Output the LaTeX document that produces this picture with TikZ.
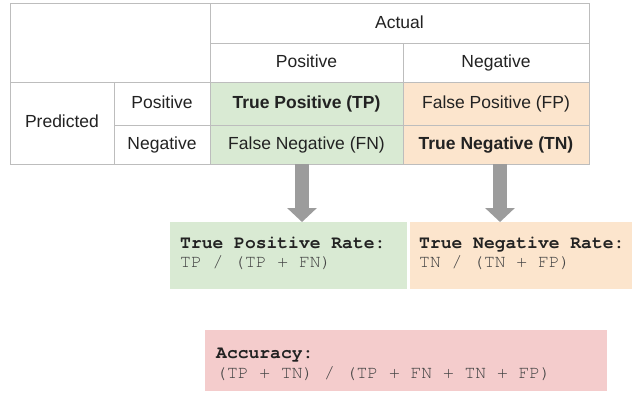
\documentclass[tikz,border=0pt]{standalone}
\usepackage{fontspec}
\setmainfont{Liberation Sans}
\newfontfamily\monof{TeX Gyre Cursor}
\usetikzlibrary{arrows.meta}
\definecolor{grn}{HTML}{D9EAD3}
\definecolor{org}{HTML}{FCE5CD}
\definecolor{pnk}{HTML}{F4CCCC}
\definecolor{lgray}{HTML}{BDBDBD}
\definecolor{agray}{HTML}{9C9C9C}
\definecolor{txt}{HTML}{222222}
\definecolor{ftxt}{HTML}{444444}
\begin{document}
\begin{tikzpicture}[x=1pt,y=-1pt,
  cell/.style={draw=lgray, line width=1pt, inner sep=0pt, outer sep=0pt, text=txt,
    font=\fontsize{17.5}{20}\selectfont, text height=12.5pt, text depth=3.5pt},
  box/.style={inner sep=0pt, outer sep=0pt, anchor=north west},
  mono/.style={font=\fontsize{18}{21}\monof, inner sep=0pt, anchor=base west},
  bigarrow/.style={draw=agray, line width=14pt, -{Triangle[width=29pt,length=14pt]}}
]
\fill[white] (0,0) rectangle (632,396);
\useasboundingbox (0,0) rectangle (632,396);

% table
\node[cell, minimum width=200pt, minimum height=79pt] (corner) at (110,43.5) {};
\node[cell, minimum width=379pt, minimum height=40pt] (actual) at (399.5,24) {Actual};
\node[cell, minimum width=193pt, minimum height=39pt] (hpos) at (306.5,63.5) {Positive};
\node[cell, minimum width=186pt, minimum height=39pt] (hneg) at (496,63.5) {Negative};
\node[cell, minimum width=104pt, minimum height=81pt] (pred) at (62,123.5) {Predicted};
\node[cell, minimum width=96pt, minimum height=42pt] (ppos) at (162,104) {Positive};
\node[cell, minimum width=96pt, minimum height=39pt] (pneg) at (162,144.5) {Negative};
\node[cell, fill=grn, minimum width=193pt, minimum height=42pt] (tp) at (306.5,104) {\bfseries True Positive (TP)};
\node[cell, fill=org, minimum width=186pt, minimum height=42pt] (fp) at (496,104) {False Positive (FP)};
\node[cell, fill=grn, minimum width=193pt, minimum height=39pt] (fn) at (306.5,144.5) {False Negative (FN)};
\node[cell, fill=org, minimum width=186pt, minimum height=39pt] (tn) at (496,144.5) {\bfseries True Negative (TN)};

% rate boxes
\node[box, fill=grn, minimum width=237pt, minimum height=67pt] (tpr) at (170,222) {};
\node[box, fill=org, minimum width=230pt, minimum height=67pt] (tnr) at (410,222) {};
\node[box, fill=pnk, minimum width=402pt, minimum height=61pt] (acc) at (205,330) {};

\node[mono, text=txt] (tprh) at (180,248) {\bfseries True Positive Rate:};
\node[mono, text=ftxt] (tprf) at (180,267) {TP / (TP + FN)};
\node[mono, text=txt] (tnrh) at (419,248) {\bfseries True Negative Rate:};
\node[mono, text=ftxt] (tnrf) at (419,267) {TN / (TN + FP)};
\node[mono, text=txt] (acch) at (216,358) {\bfseries Accuracy:};
\node[mono, text=ftxt] (accf) at (216,378) {(TP + TN) / (TP + FN + TN + FP)};

% arrows
\draw[bigarrow] ([xshift=-4.5pt]fn.south) -- ([xshift=-4.5pt]fn.south |- tpr.north);
\draw[bigarrow] ([xshift=4pt]tn.south) -- ([xshift=4pt]tn.south |- tnr.north);
\end{tikzpicture}
\end{document}
